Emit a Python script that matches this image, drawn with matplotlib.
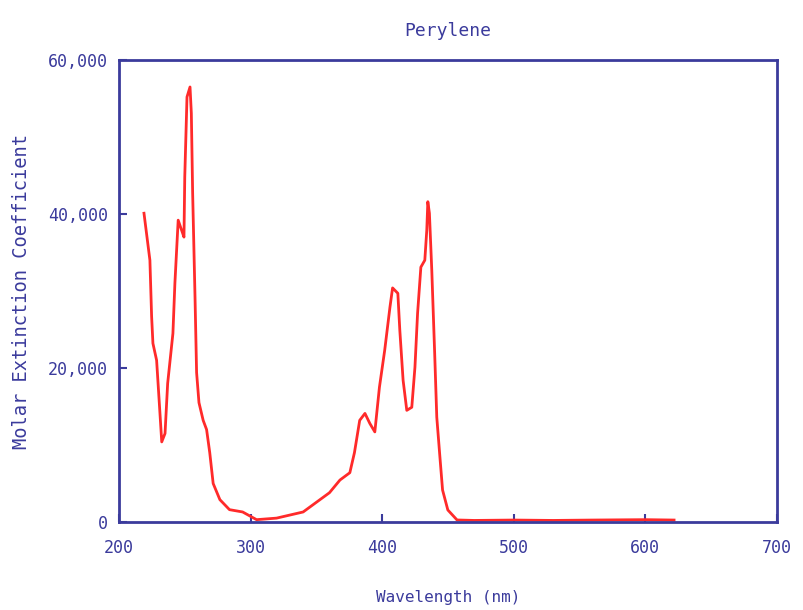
import matplotlib
matplotlib.use("Agg")
import matplotlib.pyplot as plt
from matplotlib.ticker import FuncFormatter

wavelength = [219, 223.5, 224.8, 225.8, 228.6, 231, 232.5, 235, 237, 241, 242.5, 245,
              247.6, 249.4, 250, 251.7, 254, 255, 256, 257.8, 259, 260.8, 264, 266.6,
              269, 271.6, 276.7, 284, 294, 304.6, 319.8, 340, 360, 368, 375.5, 379,
              383, 387, 390.7, 394.5, 398, 402, 406, 408, 412, 413.5, 416, 418.8, 422.6,
              425, 427, 429.5, 432.5, 434, 434.8, 436, 437.8, 440, 441.6, 444, 446, 450,
              457, 470, 500, 530, 560, 600, 622]
epsilon = [40100, 34000, 26700, 23200, 21000, 14500, 10400, 11500, 18000, 24500, 31000, 39200,
           37900, 37000, 44800, 55200, 56500, 53100, 42700, 29200, 19400, 15500, 13200, 12000,
           9000, 5000, 2900, 1600, 1300, 300, 500, 1300, 3800, 5450, 6400, 9000,
           13200, 14100, 12800, 11700, 17500, 22300, 27900, 30400, 29700, 24900, 18400, 14500, 14900,
           20100, 27100, 33100, 34000, 37900, 41600, 40100, 32700, 21900, 13600, 8400, 4150, 1560,
           260, 200, 250, 200, 250, 300, 250]

navy = "#3b3b9c"
fig = plt.figure(figsize=(8.04, 6.10), dpi=100)
ax = fig.add_axes([0.148, 0.1443, 0.818, 0.7573])
ax.plot(wavelength, epsilon, color="#ff2a2a", lw=2.0)
ax.set_xlim(200, 700)
ax.set_ylim(0, 60000)
for s in ax.spines.values():
    s.set_color(navy)
    s.set_linewidth(2)
ax.set_xticks([200, 300, 400, 500, 600, 700])
ax.set_yticks([0, 20000, 40000, 60000])
ax.yaxis.set_major_formatter(FuncFormatter(lambda v, p: f"{int(v):,}"))
ax.tick_params(direction="in", colors=navy, labelcolor=navy, labelsize=12, length=6, width=1.5)
ax.tick_params(axis="x", pad=12)
ax.tick_params(axis="y", pad=8)
for lab in ax.get_xticklabels() + ax.get_yticklabels():
    lab.set_family("DejaVu Sans Mono")
ax.set_title("Perylene", color=navy, fontsize=13, family="DejaVu Sans Mono", pad=17)
ax.set_xlabel("Wavelength (nm)", color=navy, fontsize=11.5, family="DejaVu Sans Mono", labelpad=24)
ax.set_ylabel("Molar Extinction Coefficient", color=navy, fontsize=13.5, family="DejaVu Sans Mono", labelpad=12)
fig.savefig("out.png", dpi=100, facecolor="white")
